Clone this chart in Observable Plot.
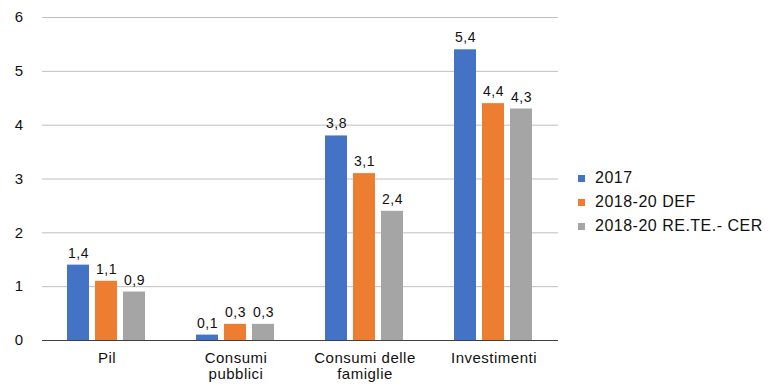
<!DOCTYPE html>
<html>
<head>
<meta charset="utf-8">
<script src="https://cdn.jsdelivr.net/npm/d3@7"></script>
<script src="https://cdn.jsdelivr.net/npm/@observablehq/plot@0.6"></script>
<style>
  html, body { margin: 0; padding: 0; background: #fff; }
  #wrap { position: relative; width: 771px; height: 387px; font-family: "Liberation Sans", Arial, sans-serif; }
  #legend { position: absolute; left: 578px; top: 166px; font-size: 16px; letter-spacing: 0.5px; color: #111; }
  .row { display: flex; align-items: center; height: 24px; }
  .sw { width: 7px; height: 7px; margin-right: 10px; }
</style>
</head>
<body>
<div id="wrap"></div>
<script>
const categories = ["Pil", "Consumi pubblici", "Consumi delle famiglie", "Investimenti"];
const categoryLabels = ["Pil", "Consumi\npubblici", "Consumi delle\nfamiglie", "Investimenti"];
const series = ["2017", "2018-20 DEF", "2018-20 RE.TE.- CER"];
const colors = ["#4472C4", "#ED7D31", "#A5A5A5"];
const values2017 = [1.4, 0.1, 3.8, 5.4];
const valuesDEF = [1.1, 0.3, 3.1, 4.4];
const valuesCER = [0.9, 0.3, 2.4, 4.3];
const yTicks = [0, 1, 2, 3, 4, 5, 6];

const seriesValues = [values2017, valuesDEF, valuesCER];
const data = [];
categories.forEach((c, i) => {
  series.forEach((s, j) => data.push({category: c, series: s, value: seriesValues[j][i]}));
});
const fmt = d => d.toFixed(1).replace(".", ",");
const labelOf = c => categoryLabels[categories.indexOf(c)];

const chart = Plot.plot({
  width: 771,
  height: 387,
  marginTop: 17,
  marginBottom: 47,
  marginLeft: 40,
  marginRight: 212,
  style: {fontFamily: "Liberation Sans, Arial, sans-serif", fontSize: "15px", color: "#111", background: "#fff"},
  fx: {domain: categories, paddingInner: 0, paddingOuter: 0, label: null, axis: null},
  x: {domain: series, paddingInner: 0.2, paddingOuter: 0.857, axis: null},
  y: {domain: [0, 6], axis: null},
  color: {domain: series, range: colors},
  marks: [
    Plot.gridY(yTicks, {stroke: "#bfbfbf", strokeOpacity: 1, strokeWidth: 1}),
    Plot.barY(data, {fx: "category", x: "series", y: "value", fill: "series"}),
    Plot.ruleY([0], {stroke: "#404040", strokeWidth: 1}),
    Plot.text(data, {fx: "category", x: "series", y: "value", text: d => fmt(d.value), dy: -12, fontSize: 14, fill: "#111", style: "letter-spacing:0.4px"}),
    Plot.axisY(yTicks, {tickSize: 0, tickPadding: 19, fontSize: 15, tickFormat: d => String(d), label: null}),
    Plot.axisFx({anchor: "bottom", tickSize: 0, tickPadding: 11, fontSize: 15, lineHeight: 1.07, tickFormat: labelOf, label: null})
  ]
});
chart.style.letterSpacing = "0.5px";
const wrap = document.getElementById("wrap");
wrap.appendChild(chart);

const legend = document.createElement("div");
legend.id = "legend";
series.forEach((s, j) => {
  const row = document.createElement("div");
  row.className = "row";
  const sw = document.createElement("div");
  sw.className = "sw";
  sw.style.background = colors[j];
  const t = document.createElement("span");
  t.textContent = s;
  row.appendChild(sw);
  row.appendChild(t);
  legend.appendChild(row);
});
wrap.appendChild(legend);
</script>
</body>
</html>
